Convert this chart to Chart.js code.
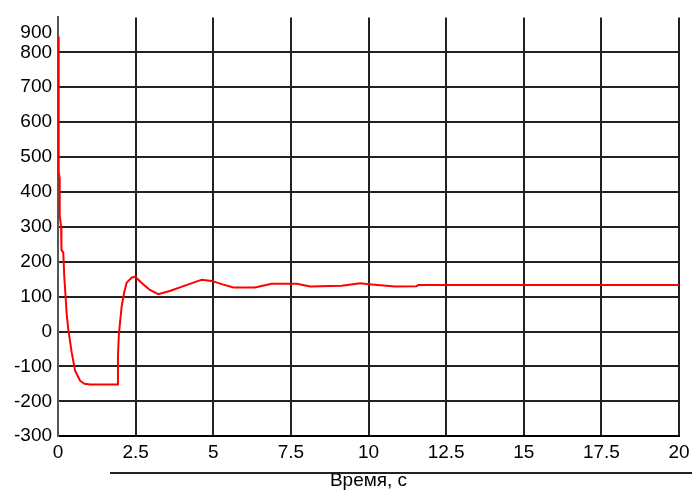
<!DOCTYPE html>
<html>
<head>
<meta charset="utf-8">
<script src="https://cdn.jsdelivr.net/npm/chart.js@4.4.0/dist/chart.umd.min.js"></script>
<style>
  html, body { margin: 0; padding: 0; background: #fff; }
  #wrap { width: 692px; height: 492px; }
</style>
</head>
<body>
<div id="wrap"><canvas id="respChart"></canvas></div>
<script>
// time, s
var timeValues = [0, 0.02, 0.025, 0.05, 0.055, 0.1, 0.11, 0.17, 0.2, 0.28, 0.33, 0.44, 0.55, 0.71, 0.85, 1.03,
  1.92, 1.93, 1.96, 2.05, 2.13, 2.21, 2.37, 2.48, 2.75, 2.96, 3.23, 3.6, 4.04, 4.52, 4.63, 4.95, 5.3, 5.65,
  6.34, 6.88, 7.69, 8.12, 9.14, 9.73, 10.1, 10.85, 11.55, 11.6, 20];
var responseValues = [845, 620, 457, 440, 331, 300, 234, 226, 159, 49, 7, -60, -112, -141, -150, -152,
  -152, -70, -8, 73, 111, 140, 154, 157, 135, 119, 107, 116, 130, 145, 148, 145, 135, 126,
  126, 137, 137, 129, 131, 138, 135, 129, 130, 133, 133];

var xTicks = [0, 2.5, 5, 7.5, 10, 12.5, 15, 17.5, 20];
var yTicks = [-300, -200, -100, 0, 100, 200, 300, 400, 500, 600, 700, 800, 900];
var xTitle = 'Время, с';

var points = timeValues.map(function (t, i) {
  return { x: t, y: responseValues[i] };
});

// line above the axis title
var titleRule = {
  id: 'titleRule',
  afterDraw: function (chart) {
    var ctx = chart.ctx;
    ctx.save();
    ctx.strokeStyle = '#222';
    ctx.lineWidth = 2;
    ctx.beginPath();
    ctx.moveTo(110, 473);
    ctx.lineTo(692, 473);
    ctx.stroke();
    ctx.restore();
  }
};

var chartElement = document.getElementById('respChart');
new Chart(chartElement, {
  type: 'line',
  data: {
    datasets: [
      {
        data: points,
        borderColor: '#ff0000',
        borderWidth: 2,
        pointRadius: 0,
        tension: 0,
        fill: false
      }
    ]
  },
  options: {
    responsive: true,
    maintainAspectRatio: false,
    animation: false,
    layout: {
      padding: { left: 8, right: 0, top: 14, bottom: 0 }
    },
    scales: {
      x: {
        type: 'linear',
        min: 0,
        max: 20,
        afterBuildTicks: function (scale) {
          scale.ticks = xTicks.map(function (v) { return { value: v }; });
        },
        afterFit: function (scale) {
          scale.paddingRight = 13;
        },
        ticks: {
          color: '#000',
          padding: 7,
          maxRotation: 0,
          font: { family: 'Liberation Sans, Arial', size: 19, lineHeight: 1 },
          callback: function (value) { return String(value); }
        },
        grid: {
          color: '#222',
          lineWidth: 2,
          drawTicks: false
        },
        border: { color: '#000', width: 2 },
        title: {
          display: true,
          text: xTitle,
          color: '#000',
          font: { family: 'Liberation Sans, Arial', size: 19 },
          padding: { top: 0, bottom: 0 }
        }
      },
      y: {
        min: -300,
        max: 900,
        afterBuildTicks: function (scale) {
          // top label sits below the frame edge, as in the original plot
          scale.ticks = yTicks.map(function (v) { return { value: v === 900 ? 857 : v }; });
        },
        ticks: {
          color: '#000',
          padding: 6,
          font: { family: 'Liberation Sans, Arial', size: 19 },
          callback: function (value) { return value > 800 ? '900' : String(value); }
        },
        grid: {
          color: function (context) {
            return context.tick && context.tick.value > 800 ? 'rgba(0,0,0,0)' : '#222';
          },
          lineWidth: 2,
          drawTicks: false
        },
        border: { color: '#555', width: 2 }
      }
    },
    plugins: {
      legend: { display: false },
      tooltip: { enabled: false }
    }
  },
  plugins: [titleRule]
});
</script>
</body>
</html>
